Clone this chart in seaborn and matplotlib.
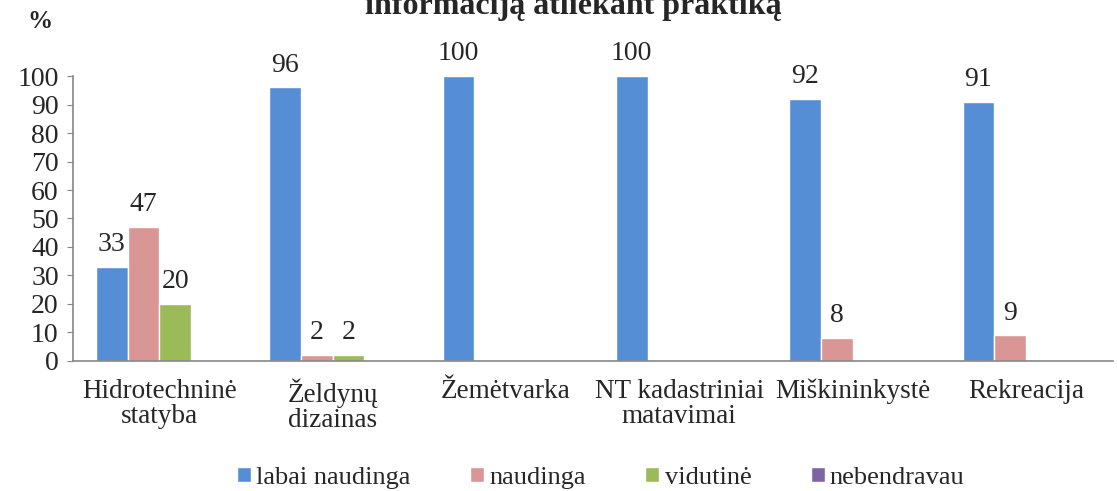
import pandas as pd
import matplotlib.pyplot as plt
import seaborn as sns

# --- duomenys ---
kategorijos = ['Hidrotechninė\nstatyba', 'Želdynų\ndizainas', 'Žemėtvarka',
               'NT kadastriniai\nmatavimai', 'Miškininkystė', 'Rekreacija']
labai_naudinga = [33, 96, 100, 100, 92, 91]
naudinga = [47, 2, 0, 0, 8, 9]
vidutine = [20, 2, 0, 0, 0, 0]
nebendravau = [0, 0, 0, 0, 0, 0]
serijos = ['labai naudinga', 'naudinga', 'vidutinė', 'nebendravau']
spalvos = ['#558ED5', '#D99694', '#9BBB59', '#8064A2']

df = pd.DataFrame({
    'kategorija': kategorijos * 4,
    'serija': sum([[s] * len(kategorijos) for s in serijos], []),
    'reiksme': labai_naudinga + naudinga + vidutine + nebendravau,
})

sns.set_style('white')
plt.rcParams['font.family'] = ['Liberation Serif', 'DejaVu Serif']

fig = plt.figure(figsize=(11.17, 4.91), dpi=100)
ax = fig.add_axes([0.065, 0.265, 0.931, 0.58])

sns.barplot(data=df, x='kategorija', y='reiksme', hue='serija',
            palette=spalvos, width=0.73, saturation=1, ax=ax,
            errorbar=None, legend=True)

# reikšmių etiketės (be nulių)
for cont in ax.containers:
    lbl = [f'{v:.0f}' if v > 0 else '' for v in cont.datavalues]
    ax.bar_label(cont, labels=lbl, padding=7, fontsize=20)

ax.set_ylim(0, 100)
ax.set_yticks(range(0, 101, 10))
ax.set_xlabel('')
ax.set_ylabel('')
ax.tick_params(axis='y', labelsize=20, length=4, color='#868686', left=True, pad=6)
ax.tick_params(axis='x', labelsize=19.5, length=0, pad=13)
for t in ax.get_xticklabels():
    t.set_linespacing(1.0)
for s in ['top', 'right']:
    ax.spines[s].set_visible(False)
for s in ['left', 'bottom']:
    ax.spines[s].set_color('#868686')
    ax.spines[s].set_linewidth(1.2)

ax.legend(loc='center', bbox_to_anchor=(0.508, -0.41), ncol=4,
          frameon=False, fontsize=19, handlelength=0.53, handleheight=0.53,
          handletextpad=0.2, columnspacing=2.25)

fig.text(0.036, 1 - 22 / 491, '%', fontsize=18, fontweight='bold', ha='center', va='center')
fig.text(0.513, 1 - 14 / 491, 'informaciją atliekant praktiką', fontsize=23,
         fontweight='bold', ha='center', va='baseline')

fig.savefig('out.png', dpi=100)
